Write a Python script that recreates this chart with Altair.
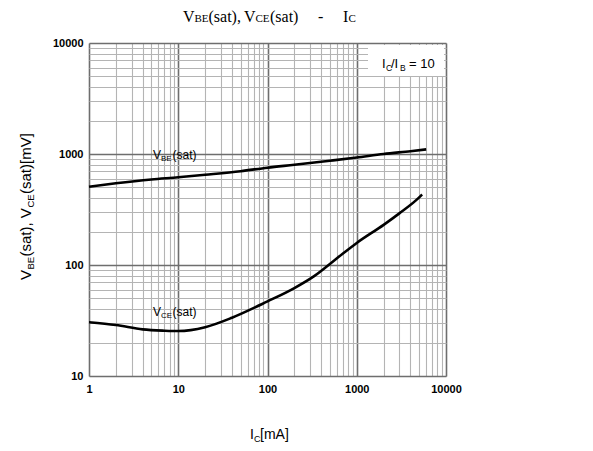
import altair as alt
import pandas as pd

# ---- data ----
ic_vbe = [1, 2, 5, 10, 20, 50, 100, 200, 500, 1000, 2000, 4000, 6000]
vbe = [507, 545, 590, 617, 650, 700, 753, 800, 870, 930, 1000, 1060, 1100]

ic_vce = [1, 2, 4, 7, 10, 20, 40, 100, 200, 330, 600, 1000, 2000, 3000, 4700, 5400]
vce = [30.5, 28.8, 26.3, 25.6, 25.4, 27.5, 33.5, 47, 62, 79, 115, 158, 230, 292, 388, 432]

x_ticks = [m * d for d in [1, 10, 100, 1000] for m in range(1, 10)] + [10000]
y_ticks = [m * d for d in [10, 100, 1000] for m in range(1, 10)] + [10000]
x_decades = [1, 10, 100, 1000, 10000]
y_decades = [10, 100, 1000, 10000]

W, H = 357, 333
OX, OY = 89, 43  # plot origin on page

df_vbe = pd.DataFrame({"ic": ic_vbe, "v": vbe})
df_vce = pd.DataFrame({"ic": ic_vce, "v": vce})
one = pd.DataFrame({"a": [0]})


def dec_test(decs):
    return "indexof([" + ",".join(str(d) for d in decs) + "], datum.value) >= 0"


def make_axis(ticks, decs, orient):
    t = dec_test(decs)
    return alt.Axis(
        values=ticks,
        labelExpr=f"{t} ? toString(datum.value) : ''",
        labelFont="Liberation Sans",
        labelFontWeight="bold",
        labelFontSize=11,
        labelColor="black",
        labelFlush=False,
        labelOverlap=False,
        labelPadding=7 if orient == "x" else 6,
        ticks=False,
        domain=False,
        title=None,
        grid=True,
        gridColor={"condition": {"test": t, "value": "#6e6e6e"}, "value": "#b4b4b4"},
        gridWidth={"condition": {"test": t, "value": 1.6}, "value": 1.1},
    )


xs = alt.Scale(type="log", domain=[1, 10000], nice=False)
ys = alt.Scale(type="log", domain=[10, 10000], nice=False)

base_vbe = alt.Chart(df_vbe).mark_line(color="black", strokeWidth=2.6, interpolate="monotone").encode(
    x=alt.X("ic:Q", scale=xs, axis=make_axis(x_ticks, x_decades, "x")),
    y=alt.Y("v:Q", scale=ys, axis=make_axis(y_ticks, y_decades, "y")),
)
line_vce = alt.Chart(df_vce).mark_line(color="black", strokeWidth=2.6, interpolate="monotone").encode(
    x=alt.X("ic:Q", scale=xs),
    y=alt.Y("v:Q", scale=ys),
)


def txt(s, px, py, size, angle=0, font="Liberation Sans"):
    return alt.Chart(one).mark_text(
        text=s, align="left", baseline="alphabetic", fontSize=size, font=font,
        angle=angle, color="black",
    ).encode(x=alt.value(px - OX), y=alt.value(py - OY))


# white box behind the IC/IB annotation
box = alt.Chart(one).mark_rect(color="white").encode(
    x=alt.value(368 - OX), x2=alt.value(W - 2), y=alt.value(2), y2=alt.value(33)
)

serif = "Liberation Serif"
texts = [
    # title
    txt("V", 183, 22, 16, font=serif),
    txt("BE", 194.5, 22, 11, font=serif),
    txt("(sat),", 208.5, 22, 16, font=serif),
    txt("V", 244, 22, 16, font=serif),
    txt("CE", 255.5, 22, 11, font=serif),
    txt("(sat)", 270, 22, 16, font=serif),
    txt("-", 318, 22, 16, font=serif),
    txt("I", 343, 22, 16, font=serif),
    txt("C", 348.5, 22, 11, font=serif),
    # x title
    txt("I", 250, 439, 14),
    txt("C", 254, 442, 9),
    txt("[mA]", 260, 439, 14),
    # y title (rotated, reading upward)
    txt("V", 31, 280, 15, angle=270),
    txt("BE", 34, 269.5, 9.5, angle=270),
    txt("(sat), V", 31, 256.5, 15, angle=270),
    txt("CE", 34, 207.5, 9.5, angle=270),
    txt("(sat)[mV]", 31, 194, 15, angle=270),
    # IC/IB annotation
    txt("I", 382, 68, 13),
    txt("C", 386, 71, 8.5),
    txt("/I", 391, 68, 13),
    txt("B", 400, 71, 8.5),
    txt("= 10", 409, 68, 13),
    # curve labels
    txt("V", 153, 159, 12),
    txt("BE", 161, 161, 8),
    txt("(sat)", 172.5, 159, 12),
    txt("V", 153, 316, 12),
    txt("CE", 161, 318, 8),
    txt("(sat)", 172.5, 316, 12),
]

chart = alt.layer(base_vbe, box, line_vce, *texts).properties(
    width=W, height=H,
    autosize=alt.AutoSizeParams(type="none"),
    padding={"left": OX - 8, "top": OY - 8, "right": 577 - (OX - 8) - W, "bottom": 435 - (OY - 8) - H},
).configure_view(stroke="black", strokeWidth=2).configure(background="white")

chart.save("out.html", embed_options={"renderer": "svg", "actions": False})
